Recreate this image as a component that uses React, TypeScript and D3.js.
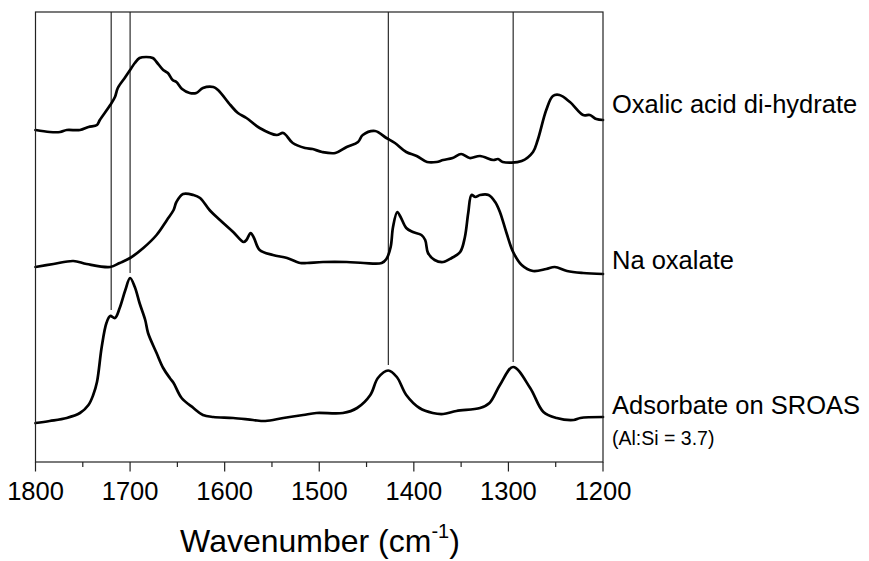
import React from "react";
import * as d3 from "d3";

// Wavenumber axis ticks (cm^-1)
const majorTicks = [1800, 1700, 1600, 1500, 1400, 1300, 1200];
const minorTicks = [1750, 1650, 1550, 1450, 1350, 1250];

// Spectra: [wavenumber, absorbance (offset, arbitrary units)]
const oxalicAcid: [number, number][] = [
  [1800, 3.32], [1785, 3.3], [1774, 3.3], [1767, 3.32], [1753, 3.32], [1744, 3.35],
  [1735, 3.37], [1732, 3.42], [1721, 3.57], [1716, 3.65], [1713, 3.74], [1705, 3.85],
  [1700, 3.92], [1695, 3.99], [1690, 4.04], [1683, 4.05], [1676, 4.04], [1672, 4.0],
  [1665, 3.92], [1660, 3.89], [1655, 3.82], [1651, 3.8], [1645, 3.73], [1637, 3.69],
  [1630, 3.69], [1623, 3.74], [1612, 3.75], [1607, 3.72], [1594, 3.57], [1586, 3.49],
  [1577, 3.44], [1563, 3.34], [1545, 3.27], [1538, 3.29], [1528, 3.19], [1515, 3.14],
  [1507, 3.13], [1497, 3.1], [1483, 3.09], [1471, 3.15], [1459, 3.2], [1454, 3.27],
  [1441, 3.31], [1429, 3.24], [1420, 3.19], [1408, 3.1], [1397, 3.06], [1386, 3.0],
  [1376, 3.0], [1369, 3.02], [1359, 3.04], [1350, 3.08], [1341, 3.04], [1330, 3.06],
  [1316, 3.02], [1311, 3.03], [1306, 3.0], [1286, 3.01], [1274, 3.1], [1269, 3.22],
  [1260, 3.52], [1253, 3.66], [1246, 3.67], [1235, 3.6], [1221, 3.47], [1214, 3.47],
  [1207, 3.43], [1200, 3.42],
];

const naOxalate: [number, number][] = [
  [1800, 1.95], [1781, 1.98], [1760, 2.01], [1746, 1.98], [1721, 1.95], [1711, 1.99],
  [1700, 2.04], [1686, 2.14], [1672, 2.27], [1661, 2.42], [1654, 2.52], [1651, 2.6],
  [1644, 2.68], [1633, 2.67], [1626, 2.64], [1616, 2.52], [1605, 2.42], [1591, 2.3],
  [1580, 2.2], [1577, 2.22], [1572.5, 2.29], [1569, 2.24], [1563, 2.12], [1549, 2.07],
  [1534, 2.04], [1520, 1.99], [1513, 1.99], [1496, 2.0], [1471, 2.0], [1453, 1.99],
  [1434, 1.99], [1429, 2.03], [1424.5, 2.15], [1422, 2.35], [1417.5, 2.5], [1414, 2.45],
  [1408, 2.34], [1401, 2.3], [1392, 2.27], [1388, 2.22], [1385, 2.09], [1378, 2.02],
  [1369, 2.0], [1360, 2.04], [1351, 2.1], [1346, 2.25], [1342.5, 2.49], [1339, 2.67],
  [1335, 2.65], [1330, 2.67], [1321, 2.67], [1314, 2.6], [1309, 2.5], [1302, 2.29],
  [1295, 2.1], [1286, 1.97], [1274, 1.91], [1260, 1.93], [1251, 1.95], [1238, 1.91],
  [1221, 1.89], [1200, 1.88],
];

const adsorbate: [number, number][] = [
  [1800, 0.39], [1785, 0.41], [1767, 0.44], [1753, 0.49], [1744, 0.57], [1739, 0.67],
  [1735, 0.8], [1730, 1.15], [1725, 1.39], [1721, 1.46], [1716, 1.44], [1711, 1.54],
  [1705, 1.72], [1700, 1.84], [1695, 1.75], [1690, 1.59], [1684, 1.42], [1681, 1.29],
  [1672, 1.09], [1665, 0.94], [1658, 0.84], [1654, 0.79], [1645.5, 0.64], [1633, 0.54],
  [1623, 0.47], [1612, 0.45], [1591, 0.44], [1570, 0.42], [1557, 0.41], [1538, 0.44],
  [1517, 0.47], [1503, 0.49], [1475, 0.49], [1460, 0.54], [1446, 0.67], [1438, 0.84],
  [1427, 0.915], [1418, 0.85], [1408, 0.67], [1394, 0.54], [1380, 0.49], [1369, 0.48],
  [1355, 0.51], [1330, 0.54], [1320, 0.59], [1309, 0.77], [1295, 0.95], [1277, 0.74],
  [1263, 0.5], [1249, 0.44], [1231, 0.42], [1224, 0.44], [1200, 0.45],
];

// Reference band positions and where each guide line stops
const bandPositions = [1720, 1700, 1427, 1295];
const bandLineEnds = [1.52, 1.89, 0.97, 1.0];

const seriesLabels = ["Oxalic acid di-hydrate", "Na oxalate", "Adsorbate on SROAS"];
const seriesNote = "(Al:Si = 3.7)";

const WIDTH = 869;
const HEIGHT = 561;
const FONT = "'Liberation Sans', Arial, Helvetica, sans-serif";

export default function App() {
  const x = d3.scaleLinear().domain([1800, 1200]).range([35.5, 603]);
  const y = d3.scaleLinear().domain([0, 4.5]).range([462, 12]);

  const line = d3
    .line<[number, number]>()
    .x((d) => x(d[0]))
    .y((d) => y(d[1]))
    .curve(d3.curveCatmullRom.alpha(0.5));

  const series = [oxalicAcid, naOxalate, adsorbate];
  const labelOffsets = [7, 5, 3];

  const [y0, y1] = y.range();

  return (
    <svg
      width={WIDTH}
      height={HEIGHT}
      style={{ position: "absolute", left: 0, top: 0, background: "#fff" }}
      fontFamily={FONT}
    >
      {/* guide lines at band positions */}
      {bandPositions.map((b, i) => (
        <line
          key={`band-${b}`}
          x1={x(b)}
          x2={x(b)}
          y1={y1}
          y2={y(bandLineEnds[i])}
          stroke="#000"
          strokeWidth={1}
        />
      ))}

      {/* spectra */}
      {series.map((s, i) => (
        <path
          key={`s-${i}`}
          d={line(s) ?? undefined}
          fill="none"
          stroke="#000"
          strokeWidth={2.7}
          strokeLinejoin="round"
          strokeLinecap="round"
        />
      ))}

      {/* frame */}
      <rect
        x={x(1800)}
        y={y1}
        width={x(1200) - x(1800)}
        height={y0 - y1}
        fill="none"
        stroke="#222"
        strokeWidth={1.2}
      />

      {/* bottom axis ticks */}
      {majorTicks.map((t) => (
        <g key={`mt-${t}`}>
          <line x1={x(t)} x2={x(t)} y1={y0} y2={y0 + 9.5} stroke="#222" strokeWidth={1.2} />
          <text x={x(t)} y={500} fontSize={25.5} textAnchor="middle" fill="#000">
            {t}
          </text>
        </g>
      ))}
      {minorTicks.map((t) => (
        <line key={`nt-${t}`} x1={x(t)} x2={x(t)} y1={y0} y2={y0 + 5} stroke="#222" strokeWidth={1.2} />
      ))}

      {/* axis title */}
      <text x={320} y={552} fontSize={32} textAnchor="middle" fill="#000">
        Wavenumber (cm
        <tspan fontSize={20} dy={-14}>-1</tspan>
        <tspan dy={14}>)</tspan>
      </text>

      {/* series labels */}
      {series.map((s, i) => (
        <text
          key={`lab-${i}`}
          x={612}
          y={y(s[s.length - 1][1]) - labelOffsets[i]}
          fontSize={25.5}
          fill="#000"
        >
          {seriesLabels[i]}
        </text>
      ))}
      <text x={612} y={445} fontSize={19.5} fill="#000">
        {seriesNote}
      </text>
    </svg>
  );
}
